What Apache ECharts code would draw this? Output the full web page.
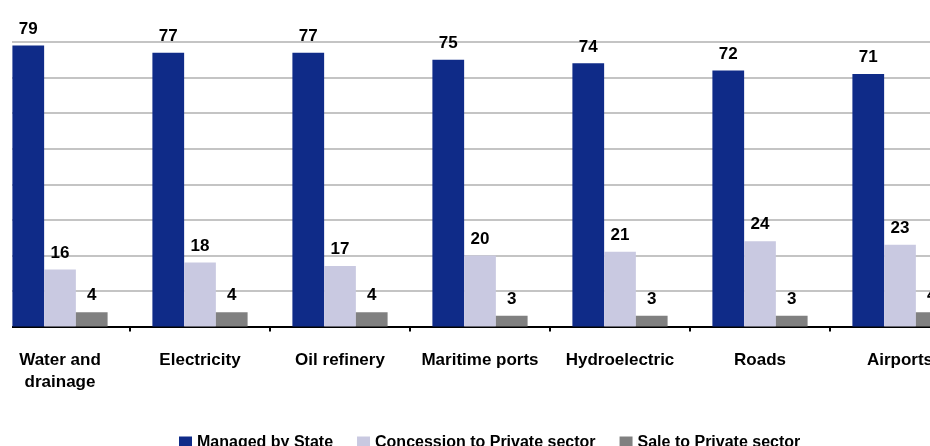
<!DOCTYPE html>
<html>
<head>
<meta charset="utf-8">
<script src="https://cdn.jsdelivr.net/npm/echarts@6/dist/echarts.min.js"></script>
<style>
html,body{margin:0;padding:0;background:#fff;overflow:hidden;width:930px;height:446px;}
#wrap{position:relative;width:930px;height:446px;overflow:hidden;}
#c{position:absolute;left:-10px;top:0;width:980px;height:446px;}
</style>
</head>
<body>
<div id="wrap"><div id="c"></div></div>
<script>
var categories = ['Water and\ndrainage', 'Electricity', 'Oil refinery', 'Maritime ports', 'Hydroelectric', 'Roads', 'Airports'];
var seriesNames = ['Managed by State', 'Concession to Private sector', 'Sale to Private sector'];
var managedByState = [79, 77, 77, 75, 74, 72, 71];
var concession = [16, 18, 17, 20, 21, 24, 23];
var sale = [4, 4, 4, 3, 3, 3, 4];
var colors = ['#0f2b88', '#c9c9e1', '#808080'];

var font = '"Liberation Sans", Arial, sans-serif';
function mk(name, data, color) {
  return {
    name: name,
    type: 'bar',
    data: data,
    barGap: '0%',
    barCategoryGap: '32%',
    itemStyle: { color: color },
    label: {
      show: true,
      position: 'top',
      distance: 8,
      color: '#000',
      fontFamily: font,
      fontWeight: 'bold',
      fontSize: 17
    }
  };
}
var chart = echarts.init(document.getElementById('c'), null, { renderer: 'canvas' });
chart.setOption({
  animation: false,
  backgroundColor: '#fff',
  color: colors,
  grid: { left: 0, right: 0, top: 42, bottom: 119.5, containLabel: false },
  legend: {
    left: 184,
    top: 430,
    itemWidth: 13,
    itemHeight: 13,
    itemGap: 24,
    icon: 'rect',
    textStyle: { fontFamily: font, fontWeight: 'bold', fontSize: 16, color: '#000' },
    data: seriesNames
  },
  xAxis: {
    type: 'category',
    data: categories,
    axisLine: { lineStyle: { color: '#000', width: 2 } },
    axisTick: { show: true, length: 5, lineStyle: { color: '#000', width: 2 } },
    axisLabel: {
      interval: 0,
      margin: 23,
      color: '#000',
      fontFamily: font,
      fontWeight: 'bold',
      fontSize: 17,
      lineHeight: 22
    }
  },
  yAxis: {
    type: 'value',
    min: 0,
    max: 80,
    interval: 10,
    axisLine: { show: false },
    axisTick: { show: false },
    axisLabel: { show: false },
    splitLine: { lineStyle: { color: '#c4c4c4', width: 2 } }
  },
  graphic: [{
    type: 'rect',
    left: 0,
    top: 0,
    shape: { width: 22, height: 446 },
    style: { fill: '#fff' },
    z: 100
  }],
  series: [
    mk(seriesNames[0], managedByState, colors[0]),
    mk(seriesNames[1], concession, colors[1]),
    mk(seriesNames[2], sale, colors[2])
  ]
});
</script>
</body>
</html>
